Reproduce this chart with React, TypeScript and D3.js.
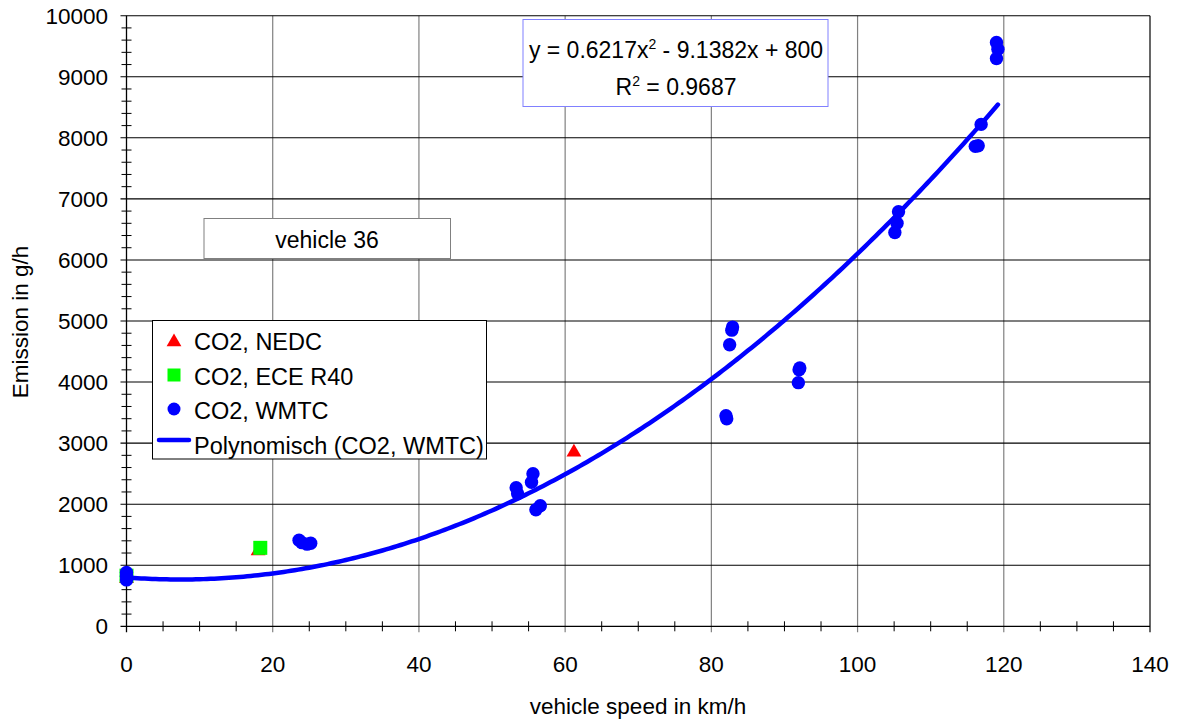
import React from 'react';
import * as d3 from 'd3';

// values
const nedcSpeed = [0, 18.0, 61.2];
const nedcEmission = [780, 1235, 2850];

const eceSpeed = [0, 18.3];
const eceEmission = [830, 1285];

const wmtcSpeed = [0, 0, 0, 23.6, 24.0, 24.7, 25.2, 53.3, 53.5, 55.6, 55.4, 56.0, 56.6,
  82.0, 82.1, 82.5, 82.8, 82.9, 91.9, 92.0, 92.1, 105.1, 105.4, 105.6, 116.1, 116.5, 116.9,
  119.0, 119.2, 119.0];
const wmtcEmission = [760, 820, 880, 1410, 1370, 1345, 1360, 2270, 2170, 2500, 2360, 1910, 1975,
  3450, 3400, 4610, 4850, 4900, 3990, 4200, 4230, 6450, 6600, 6790, 7860, 7870, 8220,
  9300, 9450, 9560];

// trendline from the chart's own equation box
const polyCoef = [800, -9.1382, 0.6217];
const trendRange = [0, 119.2];

const xTicks = [0, 20, 40, 60, 80, 100, 120, 140];
const yTicks = [0, 1000, 2000, 3000, 4000, 5000, 6000, 7000, 8000, 9000, 10000];

const legendLabels = ['CO2, NEDC', 'CO2, ECE R40', 'CO2, WMTC', 'Polynomisch (CO2, WMTC)'];

const W = 1180, H = 722;
const font = 'Liberation Sans, Arial, sans-serif';

export default function App() {
  const x = d3.scaleLinear().domain([0, 140]).range([126.5, 1150]);
  const y = d3.scaleLinear().domain([0, 10000]).range([626.3, 15.7]);

  const xMinor = d3.range(0, 141, 5).filter(v => v % 20 !== 0);
  const yMinor = d3.range(0, 10001, 200).filter(v => v % 1000 !== 0);

  const poly = (v: number) => polyCoef[0] + polyCoef[1] * v + polyCoef[2] * v * v;
  const trendXs = d3.range(trendRange[0], trendRange[1], 0.5).concat([trendRange[1]]);
  const line = d3.line<number>().x(v => x(v)).y(v => y(poly(v)));

  const tri = d3.symbol().type(d3.symbolTriangle).size(95)();

  return (
    <svg width={W} height={H} style={{ position: 'absolute', left: 0, top: 0, background: '#fff' }}
      fontFamily={font}>
      <rect x={0} y={0} width={W} height={H} fill="#fff" />

      {/* vertical grid (grey) */}
      {xTicks.slice(1, -1).map(v => (
        <line key={'gx' + v} x1={x(v)} x2={x(v)} y1={y(10000)} y2={y(0) + 6} stroke="#808080" strokeWidth={1.2} />
      ))}
      {/* horizontal grid */}
      {yTicks.slice(1).map(v => (
        <line key={'gy' + v} x1={x(0) - 6} x2={x(140)} y1={y(v)} y2={y(v)} stroke="#000" strokeWidth={1.1} />
      ))}
      <line x1={x(140)} x2={x(140)} y1={y(10000)} y2={y(0) + 6} stroke="#000" strokeWidth={1.2} />

      {/* axes */}
      <line x1={x(0)} x2={x(0)} y1={y(10000)} y2={y(0) + 6} stroke="#000" strokeWidth={1.3} />
      <line x1={x(0) - 6} x2={x(140)} y1={y(0)} y2={y(0)} stroke="#000" strokeWidth={1.3} />
      {yMinor.map(v => (
        <line key={'my' + v} x1={x(0) - 5} x2={x(0) + 5} y1={y(v)} y2={y(v)} stroke="#000" strokeWidth={1} />
      ))}
      {xMinor.map(v => (
        <line key={'mx' + v} x1={x(v)} x2={x(v)} y1={y(0) - 5} y2={y(0) + 5} stroke="#000" strokeWidth={1} />
      ))}

      {yTicks.map(v => (
        <text key={'ty' + v} x={108} y={y(v) + 8} textAnchor="end" fontSize={22.5}>{v}</text>
      ))}
      {xTicks.map(v => (
        <text key={'tx' + v} x={x(v)} y={672} textAnchor="middle" fontSize={22.5}>{v}</text>
      ))}

      <text x={638} y={714} textAnchor="middle" fontSize={22.5}>vehicle speed in km/h</text>
      <text transform="translate(28,322) rotate(-90)" textAnchor="middle" fontSize={22.5}>Emission in g/h</text>

      {/* vehicle label */}
      <rect x={204} y={218.5} width={246.5} height={40} fill="#fff" stroke="#808080" strokeWidth={1} />
      <text x={327} y={248} textAnchor="middle" fontSize={23}>vehicle 36</text>

      {/* equation box */}
      <rect x={523} y={19.5} width={305} height={87} fill="#fff" stroke="#8080ff" strokeWidth={1} />
      <text x={676} y={58} textAnchor="middle" fontSize={23}>
        y = 0.6217x<tspan dy={-9} fontSize={14}>2</tspan><tspan dy={9}> - 9.1382x + 800</tspan>
      </text>
      <text x={676} y={95} textAnchor="middle" fontSize={23}>
        R<tspan dy={-9} fontSize={14}>2</tspan><tspan dy={9}> = 0.9687</tspan>
      </text>

      {/* NEDC triangles */}
      {nedcSpeed.map((v, i) => (
        <path key={'n' + i} d={tri!} transform={`translate(${x(v)},${y(nedcEmission[i])})`} fill="#ff0000" />
      ))}
      {/* ECE squares */}
      {eceSpeed.map((v, i) => (
        <rect key={'e' + i} x={x(v) - 7} y={y(eceEmission[i]) - 7} width={14} height={14} fill="#00ff00" />
      ))}
      {/* WMTC circles */}
      {wmtcSpeed.map((v, i) => (
        <circle key={'w' + i} cx={x(v)} cy={y(wmtcEmission[i])} r={6.7} fill="#0000ff" />
      ))}

      {/* trendline */}
      <path d={line(trendXs)!} fill="none" stroke="#0000ff" strokeWidth={4.5} strokeLinecap="round" />

      {/* legend */}
      <rect x={152.5} y={320.5} width={334} height={138.5} fill="#fff" stroke="#000" strokeWidth={1} />
      <path d={tri!} transform="translate(174,342)" fill="#ff0000" />
      <rect x={167.5} y={368.5} width={13} height={13} fill="#00ff00" />
      <circle cx={174} cy={409} r={6.5} fill="#0000ff" />
      <line x1={159} x2={189} y1={440} y2={440} stroke="#0000ff" strokeWidth={4.5} strokeLinecap="round" />
      {legendLabels.map((t, i) => (
        <text key={'l' + i} x={194} y={350 + i * 34.7} fontSize={23.5}>{t}</text>
      ))}
    </svg>
  );
}
